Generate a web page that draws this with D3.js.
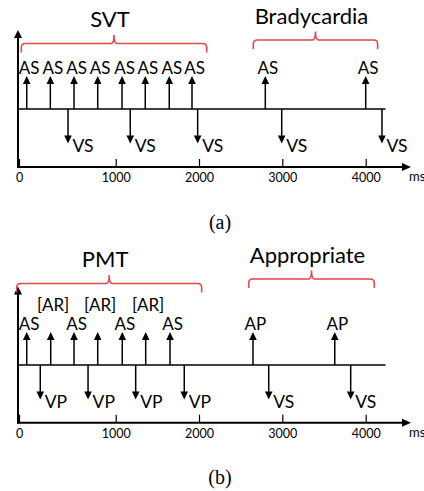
<!DOCTYPE html>
<html>
<head>
<meta charset="utf-8">
<script src="https://cdn.jsdelivr.net/npm/d3@7"></script>
<style>
  html, body { margin: 0; padding: 0; background: #fff; }
  svg { display: block; }
</style>
</head>
<body>
<svg id="chart" width="424" height="491"></svg>
<script>
// ---------- DATA ----------
const tickValues = [0, 1000, 2000, 3000, 4000];
const tickLabels = ["0", "1000", "2000", "3000", "4000"];
const unitLabel = "ms";

// Panel (a)
const aEpisodeNames = ["SVT", "Bradycardia"];
const aEpisodeStart = [24, 2652];
const aEpisodeEnd   = [2092, 4143];
const aUpTimes   = [80, 324, 569, 814, 1076, 1355, 1643, 1916, 2796, 4000];
const aUpLabels  = ["AS", "AS", "AS", "AS", "AS", "AS", "AS", "AS", "AS", "AS"];
const aDownTimes = [507, 1175, 1984, 2993, 4195];
const aDownLabels = ["VS", "VS", "VS", "VS", "VS"];
const aCaption = "(a)";

// Panel (b)
const bEpisodeNames = ["PMT", "Appropriate"];
const bEpisodeStart = [-24, 2597];
const bEpisodeEnd   = [2032, 4103];
const bUpTimes   = [80, 328, 569, 814, 1079, 1360, 1652, 2648, 3629];
const bUpLabels  = ["AS", "[AR]", "AS", "[AR]", "AS", "[AR]", "AS", "AP", "AP"];
const bDownTimes = [220, 714, 1240, 1823, 2837, 3820];
const bDownLabels = ["VP", "VP", "VP", "VP", "VS", "VS"];
const bCaption = "(b)";

// ---------- LAYOUT ----------
const svg = d3.select("#chart");
const FONT = "Lato, 'Open Sans', sans-serif";
const RED = "#e2474b";

// the source figure's ticks are not evenly spaced between 0 and 1000
const x = d3.scaleLinear()
  .domain(tickValues)
  .range([19, 115.7, 199, 282.3, 365.7]);

const axisLeftX = 18;

function drawPanel(cfg, d) {
  const g = svg.append("g");

  // y axis with arrow
  g.append("line")
    .attr("x1", axisLeftX).attr("x2", axisLeftX)
    .attr("y1", cfg.axisTop + 6).attr("y2", cfg.axisY + 1)
    .attr("stroke", "#000").attr("stroke-width", 2);
  g.append("path")
    .attr("d", `M${axisLeftX - 4},${cfg.axisTop + 8} L${axisLeftX},${cfg.axisTop} L${axisLeftX + 4},${cfg.axisTop + 8} Z`)
    .attr("fill", "#000");

  // x axis line with arrow
  const xEnd = 411;
  g.append("line")
    .attr("x1", axisLeftX - 1).attr("x2", xEnd - 6)
    .attr("y1", cfg.axisY).attr("y2", cfg.axisY)
    .attr("stroke", "#000").attr("stroke-width", 2);
  g.append("path")
    .attr("d", `M${xEnd - 9},${cfg.axisY - 4} L${xEnd},${cfg.axisY} L${xEnd - 9},${cfg.axisY + 4} Z`)
    .attr("fill", "#000");

  // ticks + labels via d3 axis
  const axis = d3.axisBottom(x)
    .tickValues(tickValues)
    .tickFormat((v, i) => tickLabels[i])
    .tickSizeInner(-8)
    .tickSizeOuter(0)
    .tickPadding(6);
  const ag = g.append("g")
    .attr("transform", `translate(0,${cfg.axisY})`)
    .call(axis);
  ag.select(".domain").remove();
  ag.selectAll(".tick line").attr("stroke", "#000").attr("stroke-width", 1.2);
  ag.selectAll(".tick text")
    .attr("font-family", FONT).attr("font-size", 12.5).attr("fill", "#000")
    .attr("y", 6).attr("dy", "0.75em");

  g.append("text")
    .attr("x", 409).attr("y", cfg.axisY + 14)
    .attr("font-family", FONT).attr("font-size", 13)
    .text(unitLabel);

  // baseline
  g.append("line")
    .attr("x1", axisLeftX).attr("x2", 385.5)
    .attr("y1", cfg.baseline).attr("y2", cfg.baseline)
    .attr("stroke", "#000").attr("stroke-width", 1.5);

  // up arrows
  const upLen = 33, headH = 8, headW = 3.8;
  d.upTimes.forEach((t, i) => {
    const px = x(t);
    const tip = cfg.baseline - upLen;
    g.append("line")
      .attr("x1", px).attr("x2", px)
      .attr("y1", cfg.baseline).attr("y2", tip + headH - 1)
      .attr("stroke", "#000").attr("stroke-width", 1.5);
    g.append("path")
      .attr("d", `M${px - headW},${tip + headH} L${px},${tip} L${px + headW},${tip + headH} Z`)
      .attr("fill", "#000");
    const lab = d.upLabels[i];
    const raised = lab.startsWith("[");
    g.append("text")
      .attr("x", px + 2.5)
      .attr("y", cfg.baseline + (raised ? -54 : -35.5))
      .attr("text-anchor", "middle")
      .attr("font-family", FONT).attr("font-size", 17)
      .text(lab);
  });

  // down arrows
  const downLen = 34.5;
  d.downTimes.forEach((t, i) => {
    const px = x(t);
    const tip = cfg.baseline + downLen;
    g.append("line")
      .attr("x1", px).attr("x2", px)
      .attr("y1", cfg.baseline).attr("y2", tip - headH + 1)
      .attr("stroke", "#000").attr("stroke-width", 1.5);
    g.append("path")
      .attr("d", `M${px - headW},${tip - headH} L${px},${tip} L${px + headW},${tip - headH} Z`)
      .attr("fill", "#000");
    g.append("text")
      .attr("x", px + 4.5)
      .attr("y", cfg.baseline + 42.5)
      .attr("font-family", FONT).attr("font-size", 17.5)
      .text(d.downLabels[i]);
  });

  // episode braces
  d.names.forEach((name, i) => {
    const x0 = x(d.starts[i]), x1 = x(d.ends[i]);
    const xm = (x0 + x1) / 2;
    const yl = cfg.braceLines[i];
    const ye = yl + 9, yp = yl - 8.5;
    const r = 4, r2 = 3;
    g.append("path")
      .attr("d", `M${x0},${ye} L${x0},${yl + r} Q${x0},${yl} ${x0 + r},${yl} L${xm - r2},${yl} Q${xm},${yl} ${xm},${yp} Q${xm},${yl} ${xm + r2},${yl} L${x1 - r},${yl} Q${x1},${yl} ${x1},${yl + r} L${x1},${ye}`)
      .attr("fill", "none").attr("stroke", RED).attr("stroke-width", 1.6);
    g.append("text")
      .attr("x", xm - 4)
      .attr("y", yl - 16.5)
      .attr("text-anchor", "middle")
      .attr("font-family", FONT).attr("font-size", 22)
      .text(name);
  });

  // caption
  g.append("text")
    .attr("x", 220).attr("y", cfg.captionY)
    .attr("text-anchor", "middle")
    .attr("font-family", "'Liberation Serif', 'Times New Roman', serif")
    .attr("font-size", 20)
    .text(d.caption);
}

drawPanel(
  { axisTop: 30, axisY: 167, baseline: 109, braceLines: [43.5, 40], captionY: 229 },
  { names: aEpisodeNames, starts: aEpisodeStart, ends: aEpisodeEnd,
    upTimes: aUpTimes, upLabels: aUpLabels, downTimes: aDownTimes, downLabels: aDownLabels,
    caption: aCaption }
);
drawPanel(
  { axisTop: 286.5, axisY: 422.7, baseline: 365, braceLines: [283.5, 279], captionY: 484 },
  { names: bEpisodeNames, starts: bEpisodeStart, ends: bEpisodeEnd,
    upTimes: bUpTimes, upLabels: bUpLabels, downTimes: bDownTimes, downLabels: bDownLabels,
    caption: bCaption }
);
</script>
</body>
</html>
